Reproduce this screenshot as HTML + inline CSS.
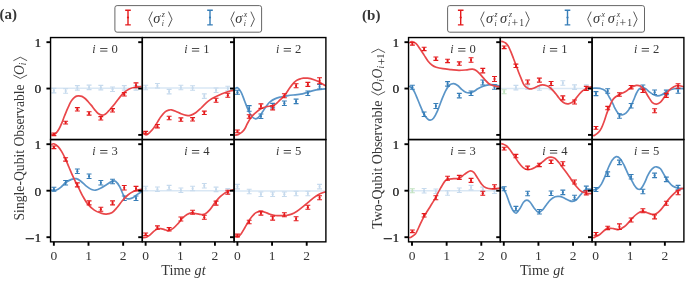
<!DOCTYPE html>
<html><head><meta charset="utf-8"><style>
html,body{margin:0;padding:0;background:#fff;}
svg{display:block;will-change:transform;}
</style></head><body>
<svg width="685" height="283" viewBox="0 0 685 283" xmlns="http://www.w3.org/2000/svg">
<rect width="685" height="283" fill="#fff"/>
<clipPath id="clip_a0"><rect x="50.55" y="37.55" width="91.78" height="102.00"/></clipPath>
<path clip-path="url(#clip_a0)" d="M50.60,88.20L141.50,88.20" fill="none" stroke="#d9e7f4" stroke-width="1.5" stroke-linejoin="round"/>
<ellipse cx="53.90" cy="90.60" rx="1.0" ry="1.3" fill="#c6daed"/>
<ellipse cx="65.63" cy="91.00" rx="1.0" ry="1.3" fill="#c6daed"/>
<ellipse cx="77.36" cy="87.90" rx="1.0" ry="1.3" fill="#c6daed"/>
<ellipse cx="89.09" cy="87.40" rx="1.0" ry="1.3" fill="#c6daed"/>
<ellipse cx="100.82" cy="87.60" rx="1.0" ry="1.3" fill="#c6daed"/>
<ellipse cx="112.55" cy="89.20" rx="1.0" ry="1.3" fill="#c6daed"/>
<ellipse cx="124.28" cy="87.90" rx="1.0" ry="1.3" fill="#c6daed"/>
<ellipse cx="136.01" cy="87.90" rx="1.0" ry="1.3" fill="#c6daed"/>
<path d="M53.90,88.36V92.84M65.63,88.76V93.24M77.36,85.66V90.14M89.09,85.16V89.64M100.82,85.36V89.84M112.55,86.96V91.44M124.28,85.66V90.14M136.01,85.66V90.14" stroke="#c6daed" stroke-width="1.3" fill="none"/>
<path d="M51.45,88.36H56.35M51.45,92.84H56.35M63.18,88.76H68.08M63.18,93.24H68.08M74.91,85.66H79.81M74.91,90.14H79.81M86.64,85.16H91.54M86.64,89.64H91.54M98.37,85.36H103.27M98.37,89.84H103.27M110.10,86.96H115.00M110.10,91.44H115.00M121.83,85.66H126.73M121.83,90.14H126.73M133.56,85.66H138.46M133.56,90.14H138.46" stroke="#c6daed" stroke-width="1.1" fill="none"/>
<path clip-path="url(#clip_a0)" d="M51.20,134.30C51.60,134.37 52.80,134.88 53.60,134.70C54.40,134.52 55.10,134.15 56.00,133.20C56.90,132.25 57.98,130.82 59.00,129.00C60.02,127.18 61.22,124.38 62.10,122.30C62.98,120.22 63.62,118.25 64.30,116.50C64.98,114.75 65.57,113.30 66.20,111.80C66.83,110.30 67.43,108.98 68.10,107.50C68.77,106.02 69.48,104.22 70.20,102.90C70.92,101.58 71.68,100.52 72.40,99.60C73.12,98.68 73.80,97.98 74.50,97.40C75.20,96.82 75.90,96.37 76.60,96.10C77.30,95.83 77.82,95.75 78.70,95.80C79.58,95.85 80.83,95.95 81.90,96.40C82.97,96.85 84.05,97.62 85.10,98.50C86.15,99.38 87.15,100.55 88.20,101.70C89.25,102.85 90.33,104.08 91.40,105.40C92.47,106.72 93.53,108.30 94.60,109.60C95.67,110.90 96.57,112.27 97.80,113.20C99.03,114.13 100.77,115.03 102.00,115.20C103.23,115.37 104.13,114.87 105.20,114.20C106.27,113.53 107.33,112.32 108.40,111.20C109.47,110.08 110.67,108.57 111.60,107.50C112.53,106.43 112.87,106.22 114.00,104.80C115.13,103.38 116.77,101.02 118.40,99.00C120.03,96.98 122.00,94.38 123.80,92.70C125.60,91.02 127.17,89.85 129.20,88.90C131.23,87.95 133.95,87.38 136.00,87.00C138.05,86.62 140.58,86.67 141.50,86.60" fill="none" stroke="#e9474a" stroke-width="1.7" stroke-linejoin="round"/>
<ellipse cx="53.90" cy="134.30" rx="1.0" ry="1.3" fill="#e41a1c"/>
<ellipse cx="65.63" cy="122.60" rx="1.0" ry="1.3" fill="#e41a1c"/>
<ellipse cx="77.36" cy="109.30" rx="1.0" ry="1.3" fill="#e41a1c"/>
<ellipse cx="89.09" cy="113.40" rx="1.0" ry="1.3" fill="#e41a1c"/>
<ellipse cx="100.82" cy="118.30" rx="1.0" ry="1.3" fill="#e41a1c"/>
<ellipse cx="112.55" cy="110.30" rx="1.0" ry="1.3" fill="#e41a1c"/>
<ellipse cx="124.28" cy="94.30" rx="1.0" ry="1.3" fill="#e41a1c"/>
<ellipse cx="136.01" cy="85.30" rx="1.0" ry="1.3" fill="#e41a1c"/>
<path d="M53.90,132.96V135.64M65.63,121.26V123.94M77.36,107.62V110.98M89.09,111.72V115.08M100.82,116.62V119.98M112.55,108.62V111.98M124.28,92.62V95.98M136.01,82.84V87.76" stroke="#e41a1c" stroke-width="1.3" fill="none"/>
<path d="M51.45,132.96H56.35M51.45,135.64H56.35M63.18,121.26H68.08M63.18,123.94H68.08M74.91,107.62H79.81M74.91,110.98H79.81M86.64,111.72H91.54M86.64,115.08H91.54M98.37,116.62H103.27M98.37,119.98H103.27M110.10,108.62H115.00M110.10,111.98H115.00M121.83,92.62H126.73M121.83,95.98H126.73M133.56,82.84H138.46M133.56,87.76H138.46" stroke="#e41a1c" stroke-width="1.1" fill="none"/>
<clipPath id="clip_a1"><rect x="142.33" y="37.55" width="91.78" height="102.00"/></clipPath>
<path clip-path="url(#clip_a1)" d="M142.60,88.10L233.50,88.10" fill="none" stroke="#d9e7f4" stroke-width="1.5" stroke-linejoin="round"/>
<ellipse cx="145.68" cy="87.50" rx="1.0" ry="1.3" fill="#c6daed"/>
<ellipse cx="157.41" cy="85.80" rx="1.0" ry="1.3" fill="#c6daed"/>
<ellipse cx="169.14" cy="91.60" rx="1.0" ry="1.3" fill="#c6daed"/>
<ellipse cx="180.87" cy="87.50" rx="1.0" ry="1.3" fill="#c6daed"/>
<ellipse cx="192.60" cy="88.00" rx="1.0" ry="1.3" fill="#c6daed"/>
<ellipse cx="204.33" cy="96.10" rx="1.0" ry="1.3" fill="#c6daed"/>
<ellipse cx="216.06" cy="90.20" rx="1.0" ry="1.3" fill="#c6daed"/>
<ellipse cx="227.79" cy="88.50" rx="1.0" ry="1.3" fill="#c6daed"/>
<path d="M145.68,85.26V89.74M157.41,83.56V88.04M169.14,89.36V93.84M180.87,85.26V89.74M192.60,85.76V90.24M204.33,93.86V98.34M216.06,87.96V92.44M227.79,86.26V90.74" stroke="#c6daed" stroke-width="1.3" fill="none"/>
<path d="M143.23,85.26H148.13M143.23,89.74H148.13M154.96,83.56H159.86M154.96,88.04H159.86M166.69,89.36H171.59M166.69,93.84H171.59M178.42,85.26H183.32M178.42,89.74H183.32M190.15,85.76H195.05M190.15,90.24H195.05M201.88,93.86H206.78M201.88,98.34H206.78M213.61,87.96H218.51M213.61,92.44H218.51M225.34,86.26H230.24M225.34,90.74H230.24" stroke="#c6daed" stroke-width="1.1" fill="none"/>
<path clip-path="url(#clip_a1)" d="M143.00,132.40C143.50,132.82 144.83,134.93 146.00,134.90C147.17,134.87 148.72,133.35 150.00,132.20C151.28,131.05 152.80,129.12 153.70,128.00C154.60,126.88 154.68,126.63 155.40,125.50C156.12,124.37 157.10,122.65 158.00,121.20C158.90,119.75 159.67,118.32 160.80,116.80C161.93,115.28 163.45,113.22 164.80,112.10C166.15,110.98 167.78,110.48 168.90,110.10C170.02,109.72 170.38,109.62 171.50,109.80C172.62,109.98 174.02,110.55 175.60,111.20C177.18,111.85 179.22,113.02 181.00,113.70C182.78,114.38 184.75,115.02 186.30,115.30C187.85,115.58 188.73,115.83 190.30,115.40C191.87,114.97 193.90,113.93 195.70,112.70C197.50,111.47 199.30,109.67 201.10,108.00C202.90,106.33 205.02,104.05 206.50,102.70C207.98,101.35 208.75,100.75 210.00,99.90C211.25,99.05 212.43,98.42 214.00,97.60C215.57,96.78 217.60,95.80 219.40,95.00C221.20,94.20 223.00,93.47 224.80,92.80C226.60,92.13 228.67,91.43 230.20,91.00C231.73,90.57 233.37,90.33 234.00,90.20" fill="none" stroke="#e9474a" stroke-width="1.7" stroke-linejoin="round"/>
<ellipse cx="145.68" cy="132.70" rx="1.0" ry="1.3" fill="#e41a1c"/>
<ellipse cx="157.41" cy="126.20" rx="1.0" ry="1.3" fill="#e41a1c"/>
<ellipse cx="169.14" cy="118.00" rx="1.0" ry="1.3" fill="#e41a1c"/>
<ellipse cx="180.87" cy="119.60" rx="1.0" ry="1.3" fill="#e41a1c"/>
<ellipse cx="192.60" cy="119.30" rx="1.0" ry="1.3" fill="#e41a1c"/>
<ellipse cx="204.33" cy="112.80" rx="1.0" ry="1.3" fill="#e41a1c"/>
<ellipse cx="216.06" cy="100.30" rx="1.0" ry="1.3" fill="#e41a1c"/>
<ellipse cx="227.79" cy="95.30" rx="1.0" ry="1.3" fill="#e41a1c"/>
<path d="M145.68,131.36V134.04M157.41,124.52V127.88M169.14,116.32V119.68M180.87,117.92V121.28M192.60,117.62V120.98M204.33,111.12V114.48M216.06,98.28V102.32M227.79,93.28V97.32" stroke="#e41a1c" stroke-width="1.3" fill="none"/>
<path d="M143.23,131.36H148.13M143.23,134.04H148.13M154.96,124.52H159.86M154.96,127.88H159.86M166.69,116.32H171.59M166.69,119.68H171.59M178.42,117.92H183.32M178.42,121.28H183.32M190.15,117.62H195.05M190.15,120.98H195.05M201.88,111.12H206.78M201.88,114.48H206.78M213.61,98.28H218.51M213.61,102.32H218.51M225.34,93.28H230.24M225.34,97.32H230.24" stroke="#e41a1c" stroke-width="1.1" fill="none"/>
<clipPath id="clip_a2"><rect x="234.11" y="37.55" width="91.78" height="102.00"/></clipPath>
<path clip-path="url(#clip_a2)" d="M234.60,89.00C235.10,88.80 236.50,87.25 237.60,87.80C238.70,88.35 240.00,90.02 241.20,92.30C242.40,94.58 243.60,98.47 244.80,101.50C246.00,104.53 247.20,107.95 248.40,110.50C249.60,113.05 250.80,115.42 252.00,116.80C253.20,118.18 254.52,118.70 255.60,118.80C256.68,118.90 257.30,118.62 258.50,117.40C259.70,116.18 261.48,113.40 262.80,111.50C264.12,109.60 265.20,107.62 266.40,106.00C267.60,104.38 268.50,103.03 270.00,101.80C271.50,100.57 273.60,99.40 275.40,98.60C277.20,97.80 278.70,97.50 280.80,97.00C282.90,96.50 285.60,95.97 288.00,95.60C290.40,95.23 293.10,95.03 295.20,94.80C297.30,94.57 298.80,94.53 300.60,94.20C302.40,93.87 303.90,93.40 306.00,92.80C308.10,92.20 310.80,91.17 313.20,90.60C315.60,90.03 318.27,89.68 320.40,89.40C322.53,89.12 325.07,88.98 326.00,88.90" fill="none" stroke="#5a95c8" stroke-width="1.7" stroke-linejoin="round"/>
<ellipse cx="237.46" cy="92.30" rx="1.0" ry="1.3" fill="#377eb8"/>
<ellipse cx="249.19" cy="108.40" rx="1.0" ry="1.3" fill="#377eb8"/>
<ellipse cx="260.92" cy="116.20" rx="1.0" ry="1.3" fill="#377eb8"/>
<ellipse cx="272.65" cy="105.60" rx="1.0" ry="1.3" fill="#377eb8"/>
<ellipse cx="284.38" cy="103.20" rx="1.0" ry="1.3" fill="#377eb8"/>
<ellipse cx="296.11" cy="101.40" rx="1.0" ry="1.3" fill="#377eb8"/>
<ellipse cx="307.84" cy="93.30" rx="1.0" ry="1.3" fill="#377eb8"/>
<ellipse cx="319.57" cy="86.70" rx="1.0" ry="1.3" fill="#377eb8"/>
<path d="M237.46,90.28V94.32M249.19,105.60V111.20M260.92,113.96V118.44M272.65,103.36V107.84M284.38,100.96V105.44M296.11,99.16V103.64M307.84,91.06V95.54M319.57,84.46V88.94" stroke="#377eb8" stroke-width="1.3" fill="none"/>
<path d="M235.01,90.28H239.91M235.01,94.32H239.91M246.74,105.60H251.64M246.74,111.20H251.64M258.47,113.96H263.37M258.47,118.44H263.37M270.20,103.36H275.10M270.20,107.84H275.10M281.93,100.96H286.83M281.93,105.44H286.83M293.66,99.16H298.56M293.66,103.64H298.56M305.39,91.06H310.29M305.39,95.54H310.29M317.12,84.46H322.02M317.12,88.94H322.02" stroke="#377eb8" stroke-width="1.1" fill="none"/>
<path clip-path="url(#clip_a2)" d="M235.00,135.20C235.50,135.10 236.83,135.10 238.00,134.60C239.17,134.10 240.83,133.22 242.00,132.20C243.17,131.18 244.10,129.95 245.00,128.50C245.90,127.05 246.32,125.45 247.40,123.50C248.48,121.55 250.15,118.58 251.50,116.80C252.85,115.02 253.93,114.15 255.50,112.80C257.07,111.45 259.12,109.72 260.90,108.70C262.68,107.68 264.42,107.17 266.20,106.70C267.98,106.23 270.13,106.25 271.60,105.90C273.07,105.55 273.93,105.25 275.00,104.60C276.07,103.95 276.97,102.97 278.00,102.00C279.03,101.03 280.05,99.95 281.20,98.80C282.35,97.65 283.67,96.63 284.90,95.10C286.13,93.57 287.38,91.35 288.60,89.60C289.82,87.85 290.98,86.05 292.20,84.60C293.42,83.15 294.67,81.82 295.90,80.90C297.13,79.98 298.37,79.55 299.60,79.10C300.83,78.65 302.08,78.37 303.30,78.20C304.52,78.03 305.68,78.03 306.90,78.10C308.12,78.17 308.87,78.10 310.60,78.60C312.33,79.10 315.30,80.18 317.30,81.10C319.30,82.02 321.15,83.27 322.60,84.10C324.05,84.93 325.43,85.77 326.00,86.10" fill="none" stroke="#e9474a" stroke-width="1.7" stroke-linejoin="round"/>
<ellipse cx="237.46" cy="131.40" rx="1.0" ry="1.3" fill="#e41a1c"/>
<ellipse cx="249.19" cy="116.50" rx="1.0" ry="1.3" fill="#e41a1c"/>
<ellipse cx="260.92" cy="106.10" rx="1.0" ry="1.3" fill="#e41a1c"/>
<ellipse cx="272.65" cy="107.90" rx="1.0" ry="1.3" fill="#e41a1c"/>
<ellipse cx="284.38" cy="95.80" rx="1.0" ry="1.3" fill="#e41a1c"/>
<ellipse cx="296.11" cy="85.80" rx="1.0" ry="1.3" fill="#e41a1c"/>
<ellipse cx="307.84" cy="84.40" rx="1.0" ry="1.3" fill="#e41a1c"/>
<ellipse cx="319.57" cy="80.80" rx="1.0" ry="1.3" fill="#e41a1c"/>
<path d="M237.46,130.06V132.74M249.19,114.82V118.18M260.92,103.86V108.34M272.65,105.88V109.92M284.38,93.78V97.82M296.11,83.78V87.82M307.84,82.38V86.42M319.57,77.78V83.82" stroke="#e41a1c" stroke-width="1.3" fill="none"/>
<path d="M235.01,130.06H239.91M235.01,132.74H239.91M246.74,114.82H251.64M246.74,118.18H251.64M258.47,103.86H263.37M258.47,108.34H263.37M270.20,105.88H275.10M270.20,109.92H275.10M281.93,93.78H286.83M281.93,97.82H286.83M293.66,83.78H298.56M293.66,87.82H298.56M305.39,82.38H310.29M305.39,86.42H310.29M317.12,77.78H322.02M317.12,83.82H322.02" stroke="#e41a1c" stroke-width="1.1" fill="none"/>
<clipPath id="clip_a3"><rect x="50.55" y="139.55" width="91.78" height="102.30"/></clipPath>
<path clip-path="url(#clip_a3)" d="M50.60,190.00C51.10,190.08 52.62,190.50 53.60,190.50C54.58,190.50 55.32,190.53 56.50,190.00C57.68,189.47 59.10,188.58 60.70,187.30C62.30,186.02 64.30,183.62 66.10,182.30C67.90,180.98 69.82,180.00 71.50,179.40C73.18,178.80 74.63,178.38 76.20,178.70C77.77,179.02 79.22,180.07 80.90,181.30C82.58,182.53 84.52,184.73 86.30,186.10C88.08,187.47 90.03,188.82 91.60,189.50C93.17,190.18 94.13,190.43 95.70,190.20C97.27,189.97 99.22,189.00 101.00,188.10C102.78,187.20 104.60,185.92 106.40,184.80C108.20,183.68 110.28,181.98 111.80,181.40C113.32,180.82 114.17,180.40 115.50,181.30C116.83,182.20 118.52,184.57 119.80,186.80C121.08,189.03 122.18,192.82 123.20,194.70C124.22,196.58 124.90,197.42 125.90,198.10C126.90,198.78 127.97,198.90 129.20,198.80C130.43,198.70 131.95,198.23 133.30,197.50C134.65,196.77 135.85,195.40 137.30,194.40C138.75,193.40 141.22,191.98 142.00,191.50" fill="none" stroke="#5a95c8" stroke-width="1.7" stroke-linejoin="round"/>
<ellipse cx="53.90" cy="189.20" rx="1.0" ry="1.3" fill="#377eb8"/>
<ellipse cx="65.63" cy="182.80" rx="1.0" ry="1.3" fill="#377eb8"/>
<ellipse cx="77.36" cy="171.20" rx="1.0" ry="1.3" fill="#377eb8"/>
<ellipse cx="89.09" cy="176.20" rx="1.0" ry="1.3" fill="#377eb8"/>
<ellipse cx="100.82" cy="182.70" rx="1.0" ry="1.3" fill="#377eb8"/>
<ellipse cx="112.55" cy="181.50" rx="1.0" ry="1.3" fill="#377eb8"/>
<ellipse cx="124.28" cy="198.20" rx="1.0" ry="1.3" fill="#377eb8"/>
<ellipse cx="136.01" cy="198.20" rx="1.0" ry="1.3" fill="#377eb8"/>
<path d="M53.90,187.18V191.22M65.63,180.56V185.04M77.36,168.96V173.44M89.09,173.96V178.44M100.82,180.46V184.94M112.55,179.26V183.74M124.28,195.96V200.44M136.01,195.96V200.44" stroke="#377eb8" stroke-width="1.3" fill="none"/>
<path d="M51.45,187.18H56.35M51.45,191.22H56.35M63.18,180.56H68.08M63.18,185.04H68.08M74.91,168.96H79.81M74.91,173.44H79.81M86.64,173.96H91.54M86.64,178.44H91.54M98.37,180.46H103.27M98.37,184.94H103.27M110.10,179.26H115.00M110.10,183.74H115.00M121.83,195.96H126.73M121.83,200.44H126.73M133.56,195.96H138.46M133.56,200.44H138.46" stroke="#377eb8" stroke-width="1.1" fill="none"/>
<path clip-path="url(#clip_a3)" d="M51.20,144.60C51.63,144.47 52.65,143.47 53.80,143.80C54.95,144.13 56.78,145.30 58.10,146.60C59.42,147.90 60.50,149.60 61.70,151.60C62.90,153.60 64.10,156.03 65.30,158.60C66.50,161.17 67.70,164.20 68.90,167.00C70.10,169.80 71.30,172.73 72.50,175.40C73.70,178.07 74.93,180.63 76.10,183.00C77.27,185.37 78.42,187.47 79.50,189.60C80.58,191.73 81.25,193.42 82.60,195.80C83.95,198.18 85.65,201.52 87.60,203.90C89.55,206.28 92.07,208.57 94.30,210.10C96.53,211.63 99.02,212.43 101.00,213.10C102.98,213.77 104.40,214.15 106.20,214.10C108.00,214.05 109.98,213.90 111.80,212.80C113.62,211.70 115.32,209.55 117.10,207.50C118.88,205.45 120.70,202.58 122.50,200.50C124.30,198.42 126.10,196.48 127.90,195.00C129.70,193.52 131.52,192.47 133.30,191.60C135.08,190.73 137.15,190.20 138.60,189.80C140.05,189.40 141.43,189.30 142.00,189.20" fill="none" stroke="#e9474a" stroke-width="1.7" stroke-linejoin="round"/>
<ellipse cx="53.90" cy="147.30" rx="1.0" ry="1.3" fill="#e41a1c"/>
<ellipse cx="65.63" cy="159.40" rx="1.0" ry="1.3" fill="#e41a1c"/>
<ellipse cx="77.36" cy="184.90" rx="1.0" ry="1.3" fill="#e41a1c"/>
<ellipse cx="89.09" cy="202.90" rx="1.0" ry="1.3" fill="#e41a1c"/>
<ellipse cx="100.82" cy="209.20" rx="1.0" ry="1.3" fill="#e41a1c"/>
<ellipse cx="112.55" cy="202.90" rx="1.0" ry="1.3" fill="#e41a1c"/>
<ellipse cx="124.28" cy="187.80" rx="1.0" ry="1.3" fill="#e41a1c"/>
<ellipse cx="136.01" cy="188.60" rx="1.0" ry="1.3" fill="#e41a1c"/>
<path d="M53.90,145.96V148.64M65.63,157.72V161.08M77.36,182.88V186.92M89.09,200.88V204.92M100.82,207.18V211.22M112.55,200.88V204.92M124.28,185.56V190.04M136.01,186.36V190.84" stroke="#e41a1c" stroke-width="1.3" fill="none"/>
<path d="M51.45,145.96H56.35M51.45,148.64H56.35M63.18,157.72H68.08M63.18,161.08H68.08M74.91,182.88H79.81M74.91,186.92H79.81M86.64,200.88H91.54M86.64,204.92H91.54M98.37,207.18H103.27M98.37,211.22H103.27M110.10,200.88H115.00M110.10,204.92H115.00M121.83,185.56H126.73M121.83,190.04H126.73M133.56,186.36H138.46M133.56,190.84H138.46" stroke="#e41a1c" stroke-width="1.1" fill="none"/>
<clipPath id="clip_a4"><rect x="142.33" y="139.55" width="91.78" height="102.30"/></clipPath>
<path clip-path="url(#clip_a4)" d="M142.60,190.80L233.50,190.80" fill="none" stroke="#d9e7f4" stroke-width="1.5" stroke-linejoin="round"/>
<ellipse cx="145.68" cy="188.50" rx="1.0" ry="1.3" fill="#c6daed"/>
<ellipse cx="157.41" cy="189.30" rx="1.0" ry="1.3" fill="#c6daed"/>
<ellipse cx="169.14" cy="187.60" rx="1.0" ry="1.3" fill="#c6daed"/>
<ellipse cx="180.87" cy="190.30" rx="1.0" ry="1.3" fill="#c6daed"/>
<ellipse cx="192.60" cy="188.50" rx="1.0" ry="1.3" fill="#c6daed"/>
<ellipse cx="204.33" cy="185.80" rx="1.0" ry="1.3" fill="#c6daed"/>
<ellipse cx="216.06" cy="189.40" rx="1.0" ry="1.3" fill="#c6daed"/>
<ellipse cx="227.79" cy="190.90" rx="1.0" ry="1.3" fill="#c6daed"/>
<path d="M145.68,186.26V190.74M157.41,187.06V191.54M169.14,185.36V189.84M180.87,188.06V192.54M192.60,186.26V190.74M204.33,183.56V188.04M216.06,187.16V191.64M227.79,188.66V193.14" stroke="#c6daed" stroke-width="1.3" fill="none"/>
<path d="M143.23,186.26H148.13M143.23,190.74H148.13M154.96,187.06H159.86M154.96,191.54H159.86M166.69,185.36H171.59M166.69,189.84H171.59M178.42,188.06H183.32M178.42,192.54H183.32M190.15,186.26H195.05M190.15,190.74H195.05M201.88,183.56H206.78M201.88,188.04H206.78M213.61,187.16H218.51M213.61,191.64H218.51M225.34,188.66H230.24M225.34,193.14H230.24" stroke="#c6daed" stroke-width="1.1" fill="none"/>
<path clip-path="url(#clip_a4)" d="M143.00,237.70C143.58,237.62 145.32,237.68 146.50,237.20C147.68,236.72 148.90,235.77 150.10,234.80C151.30,233.83 152.50,232.37 153.70,231.40C154.90,230.43 156.10,229.47 157.30,229.00C158.50,228.53 159.70,228.50 160.90,228.60C162.10,228.70 163.15,229.28 164.50,229.60C165.85,229.92 167.50,230.75 169.00,230.50C170.50,230.25 172.00,229.25 173.50,228.10C175.00,226.95 176.50,225.25 178.00,223.60C179.50,221.95 181.00,219.70 182.50,218.20C184.00,216.70 185.50,215.50 187.00,214.60C188.50,213.70 190.00,212.97 191.50,212.80C193.00,212.63 194.35,213.32 196.00,213.60C197.65,213.88 199.90,214.43 201.40,214.50C202.90,214.57 203.65,214.73 205.00,214.00C206.35,213.27 208.00,211.77 209.50,210.10C211.00,208.43 212.50,205.97 214.00,204.00C215.50,202.03 217.00,199.90 218.50,198.30C220.00,196.70 221.42,195.57 223.00,194.40C224.58,193.23 226.17,192.13 228.00,191.30C229.83,190.47 233.00,189.72 234.00,189.40" fill="none" stroke="#e9474a" stroke-width="1.7" stroke-linejoin="round"/>
<ellipse cx="145.68" cy="234.30" rx="1.0" ry="1.3" fill="#e41a1c"/>
<ellipse cx="157.41" cy="227.60" rx="1.0" ry="1.3" fill="#e41a1c"/>
<ellipse cx="169.14" cy="229.30" rx="1.0" ry="1.3" fill="#e41a1c"/>
<ellipse cx="180.87" cy="219.00" rx="1.0" ry="1.3" fill="#e41a1c"/>
<ellipse cx="192.60" cy="212.20" rx="1.0" ry="1.3" fill="#e41a1c"/>
<ellipse cx="204.33" cy="217.20" rx="1.0" ry="1.3" fill="#e41a1c"/>
<ellipse cx="216.06" cy="203.10" rx="1.0" ry="1.3" fill="#e41a1c"/>
<ellipse cx="227.79" cy="192.20" rx="1.0" ry="1.3" fill="#e41a1c"/>
<path d="M145.68,232.96V235.64M157.41,225.92V229.28M169.14,227.62V230.98M180.87,216.98V221.02M192.60,210.18V214.22M204.33,215.18V219.22M216.06,201.08V205.12M227.79,190.18V194.22" stroke="#e41a1c" stroke-width="1.3" fill="none"/>
<path d="M143.23,232.96H148.13M143.23,235.64H148.13M154.96,225.92H159.86M154.96,229.28H159.86M166.69,227.62H171.59M166.69,230.98H171.59M178.42,216.98H183.32M178.42,221.02H183.32M190.15,210.18H195.05M190.15,214.22H195.05M201.88,215.18H206.78M201.88,219.22H206.78M213.61,201.08H218.51M213.61,205.12H218.51M225.34,190.18H230.24M225.34,194.22H230.24" stroke="#e41a1c" stroke-width="1.1" fill="none"/>
<clipPath id="clip_a5"><rect x="234.11" y="139.55" width="91.78" height="102.30"/></clipPath>
<path clip-path="url(#clip_a5)" d="M234.60,191.10L325.50,191.10" fill="none" stroke="#d9e7f4" stroke-width="1.5" stroke-linejoin="round"/>
<ellipse cx="237.46" cy="186.60" rx="1.0" ry="1.3" fill="#c6daed"/>
<ellipse cx="249.19" cy="191.50" rx="1.0" ry="1.3" fill="#c6daed"/>
<ellipse cx="260.92" cy="194.30" rx="1.0" ry="1.3" fill="#c6daed"/>
<ellipse cx="272.65" cy="194.30" rx="1.0" ry="1.3" fill="#c6daed"/>
<ellipse cx="284.38" cy="194.30" rx="1.0" ry="1.3" fill="#c6daed"/>
<ellipse cx="296.11" cy="193.50" rx="1.0" ry="1.3" fill="#c6daed"/>
<ellipse cx="307.84" cy="193.50" rx="1.0" ry="1.3" fill="#c6daed"/>
<ellipse cx="319.57" cy="186.60" rx="1.0" ry="1.3" fill="#c6daed"/>
<path d="M237.46,184.36V188.84M249.19,189.26V193.74M260.92,192.06V196.54M272.65,192.06V196.54M284.38,192.06V196.54M296.11,191.26V195.74M307.84,191.26V195.74M319.57,184.36V188.84" stroke="#c6daed" stroke-width="1.3" fill="none"/>
<path d="M235.01,184.36H239.91M235.01,188.84H239.91M246.74,189.26H251.64M246.74,193.74H251.64M258.47,192.06H263.37M258.47,196.54H263.37M270.20,192.06H275.10M270.20,196.54H275.10M281.93,192.06H286.83M281.93,196.54H286.83M293.66,191.26H298.56M293.66,195.74H298.56M305.39,191.26H310.29M305.39,195.74H310.29M317.12,184.36H322.02M317.12,188.84H322.02" stroke="#c6daed" stroke-width="1.1" fill="none"/>
<path clip-path="url(#clip_a5)" d="M235.00,235.70C235.50,235.88 236.97,237.13 238.00,236.80C239.03,236.47 240.07,235.20 241.20,233.70C242.33,232.20 243.60,229.83 244.80,227.80C246.00,225.77 247.20,223.38 248.40,221.50C249.60,219.62 250.80,217.93 252.00,216.50C253.20,215.07 254.25,213.77 255.60,212.90C256.95,212.03 258.60,211.43 260.10,211.30C261.60,211.17 262.95,211.62 264.60,212.10C266.25,212.58 268.20,213.63 270.00,214.20C271.80,214.77 273.60,215.25 275.40,215.50C277.20,215.75 279.00,215.70 280.80,215.70C282.60,215.70 284.40,215.77 286.20,215.50C288.00,215.23 289.80,214.82 291.60,214.10C293.40,213.38 295.20,212.37 297.00,211.20C298.80,210.03 300.60,208.53 302.40,207.10C304.20,205.67 306.00,204.10 307.80,202.60C309.60,201.10 311.40,199.45 313.20,198.10C315.00,196.75 316.80,195.47 318.60,194.50C320.40,193.53 322.77,192.75 324.00,192.30C325.23,191.85 325.67,191.88 326.00,191.80" fill="none" stroke="#e9474a" stroke-width="1.7" stroke-linejoin="round"/>
<ellipse cx="237.46" cy="235.50" rx="1.0" ry="1.3" fill="#e41a1c"/>
<ellipse cx="249.19" cy="222.00" rx="1.0" ry="1.3" fill="#e41a1c"/>
<ellipse cx="260.92" cy="213.10" rx="1.0" ry="1.3" fill="#e41a1c"/>
<ellipse cx="272.65" cy="218.10" rx="1.0" ry="1.3" fill="#e41a1c"/>
<ellipse cx="284.38" cy="214.80" rx="1.0" ry="1.3" fill="#e41a1c"/>
<ellipse cx="296.11" cy="218.80" rx="1.0" ry="1.3" fill="#e41a1c"/>
<ellipse cx="307.84" cy="207.20" rx="1.0" ry="1.3" fill="#e41a1c"/>
<ellipse cx="319.57" cy="197.80" rx="1.0" ry="1.3" fill="#e41a1c"/>
<path d="M237.46,234.16V236.84M249.19,220.32V223.68M260.92,211.08V215.12M272.65,216.08V220.12M284.38,212.78V216.82M296.11,216.78V220.82M307.84,205.18V209.22M319.57,195.78V199.82" stroke="#e41a1c" stroke-width="1.3" fill="none"/>
<path d="M235.01,234.16H239.91M235.01,236.84H239.91M246.74,220.32H251.64M246.74,223.68H251.64M258.47,211.08H263.37M258.47,215.12H263.37M270.20,216.08H275.10M270.20,220.12H275.10M281.93,212.78H286.83M281.93,216.82H286.83M293.66,216.78H298.56M293.66,220.82H298.56M305.39,205.18H310.29M305.39,209.22H310.29M317.12,195.78H322.02M317.12,199.82H322.02" stroke="#e41a1c" stroke-width="1.1" fill="none"/>
<clipPath id="clip_b0"><rect x="408.55" y="37.55" width="91.78" height="102.00"/></clipPath>
<path clip-path="url(#clip_b0)" d="M409.20,86.00C409.67,86.40 411.20,87.57 412.00,88.40C412.80,89.23 413.32,89.80 414.00,91.00C414.68,92.20 415.08,93.22 416.10,95.60C417.12,97.98 418.77,102.15 420.10,105.30C421.43,108.45 422.87,112.23 424.10,114.50C425.33,116.77 426.48,117.95 427.50,118.90C428.52,119.85 429.20,120.32 430.20,120.20C431.20,120.08 432.28,119.77 433.50,118.20C434.72,116.63 436.15,113.82 437.50,110.80C438.85,107.78 440.25,103.43 441.60,100.10C442.95,96.77 444.27,93.32 445.60,90.80C446.93,88.28 448.25,86.20 449.60,85.00C450.95,83.80 452.35,83.52 453.70,83.60C455.05,83.68 456.37,84.53 457.70,85.50C459.03,86.47 460.37,88.28 461.70,89.40C463.03,90.52 464.35,91.62 465.70,92.20C467.05,92.78 468.45,93.02 469.80,92.90C471.15,92.78 472.47,92.18 473.80,91.50C475.13,90.82 476.23,89.68 477.80,88.80C479.37,87.92 481.40,86.87 483.20,86.20C485.00,85.53 486.80,85.03 488.60,84.80C490.40,84.57 492.10,84.57 494.00,84.80C495.90,85.03 499.00,85.97 500.00,86.20" fill="none" stroke="#5a95c8" stroke-width="1.7" stroke-linejoin="round"/>
<ellipse cx="412.40" cy="87.30" rx="1.0" ry="1.3" fill="#377eb8"/>
<ellipse cx="424.13" cy="114.20" rx="1.0" ry="1.3" fill="#377eb8"/>
<ellipse cx="435.86" cy="106.00" rx="1.0" ry="1.3" fill="#377eb8"/>
<ellipse cx="447.59" cy="83.90" rx="1.0" ry="1.3" fill="#377eb8"/>
<ellipse cx="459.32" cy="95.60" rx="1.0" ry="1.3" fill="#377eb8"/>
<ellipse cx="471.05" cy="93.20" rx="1.0" ry="1.3" fill="#377eb8"/>
<ellipse cx="482.78" cy="82.50" rx="1.0" ry="1.3" fill="#377eb8"/>
<ellipse cx="494.51" cy="87.00" rx="1.0" ry="1.3" fill="#377eb8"/>
<path d="M412.40,85.28V89.32M424.13,111.96V116.44M435.86,103.54V108.46M447.59,81.66V86.14M459.32,93.36V97.84M471.05,90.96V95.44M482.78,80.04V84.96M494.51,84.76V89.24" stroke="#377eb8" stroke-width="1.3" fill="none"/>
<path d="M409.95,85.28H414.85M409.95,89.32H414.85M421.68,111.96H426.58M421.68,116.44H426.58M433.41,103.54H438.31M433.41,108.46H438.31M445.14,81.66H450.04M445.14,86.14H450.04M456.87,93.36H461.77M456.87,97.84H461.77M468.60,90.96H473.50M468.60,95.44H473.50M480.33,80.04H485.23M480.33,84.96H485.23M492.06,84.76H496.96M492.06,89.24H496.96" stroke="#377eb8" stroke-width="1.1" fill="none"/>
<path clip-path="url(#clip_b0)" d="M409.20,43.00C409.67,42.78 410.85,41.58 412.00,41.70C413.15,41.82 414.75,42.47 416.10,43.70C417.45,44.93 418.77,47.20 420.10,49.10C421.43,51.00 422.77,53.08 424.10,55.10C425.43,57.12 426.75,59.52 428.10,61.20C429.45,62.88 430.85,64.20 432.20,65.20C433.55,66.20 434.42,66.62 436.20,67.20C437.98,67.78 440.43,68.30 442.90,68.70C445.37,69.10 448.32,69.32 451.00,69.60C453.68,69.88 456.32,70.37 459.00,70.40C461.68,70.43 464.85,70.00 467.10,69.80C469.35,69.60 470.93,69.05 472.50,69.20C474.07,69.35 475.17,69.78 476.50,70.70C477.83,71.62 479.15,73.25 480.50,74.70C481.85,76.15 483.25,77.93 484.60,79.40C485.95,80.87 487.27,82.48 488.60,83.50C489.93,84.52 491.27,85.03 492.60,85.50C493.93,85.97 495.37,86.08 496.60,86.30C497.83,86.52 499.43,86.72 500.00,86.80" fill="none" stroke="#e9474a" stroke-width="1.7" stroke-linejoin="round"/>
<ellipse cx="412.40" cy="43.80" rx="1.0" ry="1.3" fill="#e41a1c"/>
<ellipse cx="424.13" cy="48.90" rx="1.0" ry="1.3" fill="#e41a1c"/>
<ellipse cx="435.86" cy="58.70" rx="1.0" ry="1.3" fill="#e41a1c"/>
<ellipse cx="447.59" cy="60.90" rx="1.0" ry="1.3" fill="#e41a1c"/>
<ellipse cx="459.32" cy="63.60" rx="1.0" ry="1.3" fill="#e41a1c"/>
<ellipse cx="471.05" cy="60.00" rx="1.0" ry="1.3" fill="#e41a1c"/>
<ellipse cx="482.78" cy="70.60" rx="1.0" ry="1.3" fill="#e41a1c"/>
<ellipse cx="494.51" cy="79.00" rx="1.0" ry="1.3" fill="#e41a1c"/>
<path d="M412.40,42.46V45.14M424.13,47.22V50.58M435.86,57.02V60.38M447.59,59.22V62.58M459.32,61.92V65.28M471.05,57.76V62.24M482.78,68.36V72.84M494.51,76.54V81.46" stroke="#e41a1c" stroke-width="1.3" fill="none"/>
<path d="M409.95,42.46H414.85M409.95,45.14H414.85M421.68,47.22H426.58M421.68,50.58H426.58M433.41,57.02H438.31M433.41,60.38H438.31M445.14,59.22H450.04M445.14,62.58H450.04M456.87,61.92H461.77M456.87,65.28H461.77M468.60,57.76H473.50M468.60,62.24H473.50M480.33,68.36H485.23M480.33,72.84H485.23M492.06,76.54H496.96M492.06,81.46H496.96" stroke="#e41a1c" stroke-width="1.1" fill="none"/>
<clipPath id="clip_b1"><rect x="500.33" y="37.55" width="91.78" height="102.00"/></clipPath>
<path clip-path="url(#clip_b1)" d="M500.60,88.40L591.50,88.40" fill="none" stroke="#d9e7f4" stroke-width="1.5" stroke-linejoin="round"/>
<ellipse cx="515.91" cy="87.60" rx="1.0" ry="1.3" fill="#c6daed"/>
<ellipse cx="527.64" cy="87.10" rx="1.0" ry="1.3" fill="#c6daed"/>
<ellipse cx="539.37" cy="88.00" rx="1.0" ry="1.3" fill="#c6daed"/>
<ellipse cx="551.10" cy="87.50" rx="1.0" ry="1.3" fill="#c6daed"/>
<ellipse cx="562.83" cy="83.00" rx="1.0" ry="1.3" fill="#c6daed"/>
<ellipse cx="574.56" cy="87.10" rx="1.0" ry="1.3" fill="#c6daed"/>
<ellipse cx="586.29" cy="87.10" rx="1.0" ry="1.3" fill="#c6daed"/>
<path d="M515.91,85.36V89.84M527.64,84.86V89.34M539.37,85.76V90.24M551.10,85.26V89.74M562.83,80.76V85.24M574.56,84.86V89.34M586.29,84.86V89.34" stroke="#c6daed" stroke-width="1.3" fill="none"/>
<path d="M513.46,85.36H518.36M513.46,89.84H518.36M525.19,84.86H530.09M525.19,89.34H530.09M536.92,85.76H541.82M536.92,90.24H541.82M548.65,85.26H553.55M548.65,89.74H553.55M560.38,80.76H565.28M560.38,85.24H565.28M572.11,84.86H577.01M572.11,89.34H577.01M583.84,84.86H588.74M583.84,89.34H588.74" stroke="#c6daed" stroke-width="1.1" fill="none"/>
<ellipse cx="504.18" cy="91.70" rx="1.0" ry="1.3" fill="#c2e2c1"/>
<path d="M504.18,89.68V93.72" stroke="#c2e2c1" stroke-width="1.3" fill="none"/>
<path d="M501.73,89.68H506.63M501.73,93.72H506.63" stroke="#c2e2c1" stroke-width="1.1" fill="none"/>
<path clip-path="url(#clip_b1)" d="M501.20,41.30C501.45,41.35 501.97,41.32 502.70,41.60C503.43,41.88 504.68,42.27 505.60,43.00C506.52,43.73 507.37,44.63 508.20,46.00C509.03,47.37 509.75,49.20 510.60,51.20C511.45,53.20 512.40,55.67 513.30,58.00C514.20,60.33 515.12,62.83 516.00,65.20C516.88,67.57 517.73,69.97 518.60,72.20C519.47,74.43 520.40,76.67 521.20,78.60C522.00,80.53 522.58,82.37 523.40,83.80C524.22,85.23 525.18,86.37 526.10,87.20C527.02,88.03 528.00,88.53 528.90,88.80C529.80,89.07 530.62,88.93 531.50,88.80C532.38,88.67 533.15,88.43 534.20,88.00C535.25,87.57 536.45,86.72 537.80,86.20C539.15,85.68 540.80,84.97 542.30,84.90C543.80,84.83 545.45,85.28 546.80,85.80C548.15,86.32 549.20,87.03 550.40,88.00C551.60,88.97 552.80,90.25 554.00,91.60C555.20,92.95 556.40,94.60 557.60,96.10C558.80,97.60 560.00,99.40 561.20,100.60C562.40,101.80 563.60,102.77 564.80,103.30C566.00,103.83 567.20,103.95 568.40,103.80C569.60,103.65 570.80,103.23 572.00,102.40C573.20,101.57 574.40,100.15 575.60,98.80C576.80,97.45 578.00,95.65 579.20,94.30C580.40,92.95 581.60,91.68 582.80,90.70C584.00,89.72 585.20,89.00 586.40,88.40C587.60,87.80 589.07,87.37 590.00,87.10C590.93,86.83 591.67,86.85 592.00,86.80" fill="none" stroke="#e9474a" stroke-width="1.7" stroke-linejoin="round"/>
<ellipse cx="504.18" cy="47.30" rx="1.0" ry="1.3" fill="#e41a1c"/>
<ellipse cx="515.91" cy="65.80" rx="1.0" ry="1.3" fill="#e41a1c"/>
<ellipse cx="527.64" cy="82.00" rx="1.0" ry="1.3" fill="#e41a1c"/>
<ellipse cx="539.37" cy="80.10" rx="1.0" ry="1.3" fill="#e41a1c"/>
<ellipse cx="551.10" cy="83.50" rx="1.0" ry="1.3" fill="#e41a1c"/>
<ellipse cx="562.83" cy="97.90" rx="1.0" ry="1.3" fill="#e41a1c"/>
<ellipse cx="574.56" cy="102.00" rx="1.0" ry="1.3" fill="#e41a1c"/>
<ellipse cx="586.29" cy="88.40" rx="1.0" ry="1.3" fill="#e41a1c"/>
<path d="M504.18,45.96V48.64M515.91,64.12V67.48M527.64,79.98V84.02M539.37,78.08V82.12M551.10,81.48V85.52M562.83,95.88V99.92M574.56,99.98V104.02M586.29,86.38V90.42" stroke="#e41a1c" stroke-width="1.3" fill="none"/>
<path d="M501.73,45.96H506.63M501.73,48.64H506.63M513.46,64.12H518.36M513.46,67.48H518.36M525.19,79.98H530.09M525.19,84.02H530.09M536.92,78.08H541.82M536.92,82.12H541.82M548.65,81.48H553.55M548.65,85.52H553.55M560.38,95.88H565.28M560.38,99.92H565.28M572.11,99.98H577.01M572.11,104.02H577.01M583.84,86.38H588.74M583.84,90.42H588.74" stroke="#e41a1c" stroke-width="1.1" fill="none"/>
<clipPath id="clip_b2"><rect x="592.11" y="37.55" width="91.78" height="102.00"/></clipPath>
<path clip-path="url(#clip_b2)" d="M592.60,88.30C592.95,88.27 593.45,88.08 594.70,88.10C595.95,88.12 598.32,87.95 600.10,88.40C601.88,88.85 603.83,89.28 605.40,90.80C606.97,92.32 608.48,95.82 609.50,97.50C610.52,99.18 610.83,99.65 611.50,100.90C612.17,102.15 612.95,103.82 613.50,105.00C614.05,106.18 614.02,106.62 614.80,108.00C615.58,109.38 616.97,112.17 618.20,113.30C619.43,114.43 620.87,114.88 622.20,114.80C623.53,114.72 624.85,114.03 626.20,112.80C627.55,111.57 629.07,109.53 630.30,107.40C631.53,105.27 632.60,102.32 633.60,100.00C634.60,97.68 635.40,95.30 636.30,93.50C637.20,91.70 637.98,90.20 639.00,89.20C640.02,88.20 641.28,87.57 642.40,87.50C643.52,87.43 644.48,88.03 645.70,88.80C646.92,89.57 648.35,91.10 649.70,92.10C651.05,93.10 652.45,94.17 653.80,94.80C655.15,95.43 656.47,95.90 657.80,95.90C659.13,95.90 660.45,95.43 661.80,94.80C663.15,94.17 664.33,92.98 665.90,92.10C667.47,91.22 669.18,90.12 671.20,89.50C673.22,88.88 675.87,88.52 678.00,88.40C680.13,88.28 683.00,88.73 684.00,88.80" fill="none" stroke="#5a95c8" stroke-width="1.7" stroke-linejoin="round"/>
<ellipse cx="595.96" cy="93.60" rx="1.0" ry="1.3" fill="#377eb8"/>
<ellipse cx="607.69" cy="91.00" rx="1.0" ry="1.3" fill="#377eb8"/>
<ellipse cx="619.42" cy="116.00" rx="1.0" ry="1.3" fill="#377eb8"/>
<ellipse cx="631.15" cy="105.80" rx="1.0" ry="1.3" fill="#377eb8"/>
<ellipse cx="642.88" cy="87.20" rx="1.0" ry="1.3" fill="#377eb8"/>
<ellipse cx="654.61" cy="92.20" rx="1.0" ry="1.3" fill="#377eb8"/>
<ellipse cx="666.34" cy="92.40" rx="1.0" ry="1.3" fill="#377eb8"/>
<ellipse cx="678.07" cy="91.00" rx="1.0" ry="1.3" fill="#377eb8"/>
<path d="M595.96,91.58V95.62M607.69,88.76V93.24M619.42,113.76V118.24M631.15,103.56V108.04M642.88,84.96V89.44M654.61,89.96V94.44M666.34,90.16V94.64M678.07,88.76V93.24" stroke="#377eb8" stroke-width="1.3" fill="none"/>
<path d="M593.51,91.58H598.41M593.51,95.62H598.41M605.24,88.76H610.14M605.24,93.24H610.14M616.97,113.76H621.87M616.97,118.24H621.87M628.70,103.56H633.60M628.70,108.04H633.60M640.43,84.96H645.33M640.43,89.44H645.33M652.16,89.96H657.06M652.16,94.44H657.06M663.89,90.16H668.79M663.89,94.64H668.79M675.62,88.76H680.52M675.62,93.24H680.52" stroke="#377eb8" stroke-width="1.1" fill="none"/>
<path clip-path="url(#clip_b2)" d="M593.00,135.60C593.28,135.53 593.75,135.77 594.70,135.20C595.65,134.63 597.58,133.37 598.70,132.20C599.82,131.03 600.50,129.98 601.40,128.20C602.30,126.42 603.20,123.97 604.10,121.50C605.00,119.03 605.90,115.87 606.80,113.40C607.70,110.93 608.62,108.78 609.50,106.70C610.38,104.62 611.22,102.43 612.10,100.90C612.98,99.37 613.45,98.62 614.80,97.50C616.15,96.38 618.40,95.20 620.20,94.20C622.00,93.20 623.80,92.63 625.60,91.50C627.40,90.37 629.22,88.42 631.00,87.40C632.78,86.38 634.75,85.62 636.30,85.40C637.85,85.18 638.95,85.32 640.30,86.10C641.65,86.88 643.05,88.32 644.40,90.10C645.75,91.88 647.07,94.72 648.40,96.80C649.73,98.88 651.05,101.37 652.40,102.60C653.75,103.83 655.15,104.27 656.50,104.20C657.85,104.13 659.17,103.43 660.50,102.20C661.83,100.97 663.15,98.70 664.50,96.80C665.85,94.90 667.03,92.47 668.60,90.80C670.17,89.13 672.33,87.68 673.90,86.80C675.47,85.92 676.32,85.50 678.00,85.50C679.68,85.50 683.00,86.58 684.00,86.80" fill="none" stroke="#e9474a" stroke-width="1.7" stroke-linejoin="round"/>
<ellipse cx="595.96" cy="127.90" rx="1.0" ry="1.3" fill="#e41a1c"/>
<ellipse cx="607.69" cy="108.10" rx="1.0" ry="1.3" fill="#e41a1c"/>
<ellipse cx="619.42" cy="94.50" rx="1.0" ry="1.3" fill="#e41a1c"/>
<ellipse cx="631.15" cy="87.20" rx="1.0" ry="1.3" fill="#e41a1c"/>
<ellipse cx="642.88" cy="90.80" rx="1.0" ry="1.3" fill="#e41a1c"/>
<ellipse cx="654.61" cy="110.80" rx="1.0" ry="1.3" fill="#e41a1c"/>
<ellipse cx="666.34" cy="95.40" rx="1.0" ry="1.3" fill="#e41a1c"/>
<ellipse cx="678.07" cy="86.00" rx="1.0" ry="1.3" fill="#e41a1c"/>
<path d="M595.96,126.56V129.24M607.69,106.42V109.78M619.42,92.82V96.18M631.15,85.52V88.88M642.88,89.12V92.48M654.61,108.78V112.82M666.34,93.38V97.42M678.07,83.76V88.24" stroke="#e41a1c" stroke-width="1.3" fill="none"/>
<path d="M593.51,126.56H598.41M593.51,129.24H598.41M605.24,106.42H610.14M605.24,109.78H610.14M616.97,92.82H621.87M616.97,96.18H621.87M628.70,85.52H633.60M628.70,88.88H633.60M640.43,89.12H645.33M640.43,92.48H645.33M652.16,108.78H657.06M652.16,112.82H657.06M663.89,93.38H668.79M663.89,97.42H668.79M675.62,83.76H680.52M675.62,88.24H680.52" stroke="#e41a1c" stroke-width="1.1" fill="none"/>
<clipPath id="clip_b3"><rect x="408.55" y="139.55" width="91.78" height="102.30"/></clipPath>
<path clip-path="url(#clip_b3)" d="M408.60,190.70L499.50,190.70" fill="none" stroke="#d9e7f4" stroke-width="1.5" stroke-linejoin="round"/>
<ellipse cx="424.13" cy="190.80" rx="1.0" ry="1.3" fill="#c6daed"/>
<ellipse cx="435.86" cy="191.20" rx="1.0" ry="1.3" fill="#c6daed"/>
<ellipse cx="447.59" cy="193.00" rx="1.0" ry="1.3" fill="#c6daed"/>
<ellipse cx="459.32" cy="190.30" rx="1.0" ry="1.3" fill="#c6daed"/>
<ellipse cx="471.05" cy="187.60" rx="1.0" ry="1.3" fill="#c6daed"/>
<ellipse cx="482.78" cy="189.40" rx="1.0" ry="1.3" fill="#c6daed"/>
<ellipse cx="494.51" cy="191.20" rx="1.0" ry="1.3" fill="#c6daed"/>
<path d="M424.13,188.56V193.04M435.86,188.96V193.44M447.59,190.76V195.24M459.32,188.06V192.54M471.05,185.36V189.84M482.78,187.16V191.64M494.51,188.96V193.44" stroke="#c6daed" stroke-width="1.3" fill="none"/>
<path d="M421.68,188.56H426.58M421.68,193.04H426.58M433.41,188.96H438.31M433.41,193.44H438.31M445.14,190.76H450.04M445.14,195.24H450.04M456.87,188.06H461.77M456.87,192.54H461.77M468.60,185.36H473.50M468.60,189.84H473.50M480.33,187.16H485.23M480.33,191.64H485.23M492.06,188.96H496.96M492.06,193.44H496.96" stroke="#c6daed" stroke-width="1.1" fill="none"/>
<ellipse cx="412.40" cy="190.80" rx="1.0" ry="1.3" fill="#c2e2c1"/>
<path d="M412.40,188.78V192.82" stroke="#c2e2c1" stroke-width="1.3" fill="none"/>
<path d="M409.95,188.78H414.85M409.95,192.82H414.85" stroke="#c2e2c1" stroke-width="1.1" fill="none"/>
<path clip-path="url(#clip_b3)" d="M409.20,237.80C409.57,237.65 410.37,237.53 411.40,236.90C412.43,236.27 414.18,235.57 415.40,234.00C416.62,232.43 417.47,230.03 418.70,227.50C419.93,224.97 421.35,221.55 422.80,218.80C424.25,216.05 426.13,213.10 427.40,211.00C428.67,208.90 429.40,207.80 430.40,206.20C431.40,204.60 432.50,202.90 433.40,201.40C434.30,199.90 435.00,198.70 435.80,197.20C436.60,195.70 437.40,193.90 438.20,192.40C439.00,190.90 439.80,189.60 440.60,188.20C441.40,186.80 442.20,185.27 443.00,184.00C443.80,182.73 444.50,181.42 445.40,180.60C446.30,179.78 447.02,179.42 448.40,179.10C449.78,178.78 451.93,178.83 453.70,178.70C455.47,178.57 457.22,179.02 459.00,178.30C460.78,177.58 462.60,175.62 464.40,174.40C466.20,173.18 468.23,171.33 469.80,171.00C471.37,170.67 472.47,171.17 473.80,172.40C475.13,173.63 476.45,176.38 477.80,178.40C479.15,180.42 480.55,182.93 481.90,184.50C483.25,186.07 484.33,187.07 485.90,187.80C487.47,188.53 488.95,188.85 491.30,188.90C493.65,188.95 498.55,188.23 500.00,188.10" fill="none" stroke="#e9474a" stroke-width="1.7" stroke-linejoin="round"/>
<ellipse cx="412.40" cy="231.30" rx="1.0" ry="1.3" fill="#e41a1c"/>
<ellipse cx="424.13" cy="215.30" rx="1.0" ry="1.3" fill="#e41a1c"/>
<ellipse cx="435.86" cy="197.80" rx="1.0" ry="1.3" fill="#e41a1c"/>
<ellipse cx="447.59" cy="178.20" rx="1.0" ry="1.3" fill="#e41a1c"/>
<ellipse cx="459.32" cy="177.40" rx="1.0" ry="1.3" fill="#e41a1c"/>
<ellipse cx="471.05" cy="180.40" rx="1.0" ry="1.3" fill="#e41a1c"/>
<ellipse cx="482.78" cy="193.20" rx="1.0" ry="1.3" fill="#e41a1c"/>
<ellipse cx="494.51" cy="186.80" rx="1.0" ry="1.3" fill="#e41a1c"/>
<path d="M412.40,229.96V232.64M424.13,213.62V216.98M435.86,195.78V199.82M447.59,176.18V180.22M459.32,175.38V179.42M471.05,178.38V182.42M482.78,191.18V195.22M494.51,184.78V188.82" stroke="#e41a1c" stroke-width="1.3" fill="none"/>
<path d="M409.95,229.96H414.85M409.95,232.64H414.85M421.68,213.62H426.58M421.68,216.98H426.58M433.41,195.78H438.31M433.41,199.82H438.31M445.14,176.18H450.04M445.14,180.22H450.04M456.87,175.38H461.77M456.87,179.42H461.77M468.60,178.38H473.50M468.60,182.42H473.50M480.33,191.18H485.23M480.33,195.22H485.23M492.06,184.78H496.96M492.06,188.82H496.96" stroke="#e41a1c" stroke-width="1.1" fill="none"/>
<clipPath id="clip_b4"><rect x="500.33" y="139.55" width="91.78" height="102.30"/></clipPath>
<path clip-path="url(#clip_b4)" d="M501.20,187.60C501.45,187.68 501.90,187.12 502.70,188.10C503.50,189.08 504.88,191.03 506.00,193.50C507.12,195.97 508.27,200.12 509.40,202.90C510.53,205.68 511.68,208.48 512.80,210.20C513.92,211.92 514.88,213.53 516.10,213.20C517.32,212.87 518.87,210.03 520.10,208.20C521.33,206.37 522.37,203.53 523.50,202.20C524.63,200.87 525.78,200.20 526.90,200.20C528.02,200.20 528.98,200.87 530.20,202.20C531.42,203.53 532.85,206.52 534.20,208.20C535.55,209.88 536.95,211.97 538.30,212.30C539.65,212.63 540.97,211.43 542.30,210.20C543.63,208.97 544.95,206.62 546.30,204.90C547.65,203.18 548.93,201.25 550.40,199.90C551.87,198.55 553.65,197.38 555.10,196.80C556.55,196.22 557.77,196.28 559.10,196.40C560.43,196.52 561.53,196.87 563.10,197.50C564.67,198.13 566.93,199.55 568.50,200.20C570.07,200.85 571.15,201.52 572.50,201.40C573.85,201.28 575.25,200.60 576.60,199.50C577.95,198.40 579.38,196.25 580.60,194.80C581.82,193.35 582.67,191.73 583.90,190.80C585.13,189.87 586.65,189.43 588.00,189.20C589.35,188.97 591.33,189.37 592.00,189.40" fill="none" stroke="#5a95c8" stroke-width="1.7" stroke-linejoin="round"/>
<ellipse cx="504.18" cy="188.80" rx="1.0" ry="1.3" fill="#377eb8"/>
<ellipse cx="515.91" cy="208.60" rx="1.0" ry="1.3" fill="#377eb8"/>
<ellipse cx="527.64" cy="193.50" rx="1.0" ry="1.3" fill="#377eb8"/>
<ellipse cx="539.37" cy="211.70" rx="1.0" ry="1.3" fill="#377eb8"/>
<ellipse cx="551.10" cy="193.20" rx="1.0" ry="1.3" fill="#377eb8"/>
<ellipse cx="562.83" cy="192.40" rx="1.0" ry="1.3" fill="#377eb8"/>
<ellipse cx="574.56" cy="197.50" rx="1.0" ry="1.3" fill="#377eb8"/>
<ellipse cx="586.29" cy="188.40" rx="1.0" ry="1.3" fill="#377eb8"/>
<path d="M504.18,186.78V190.82M515.91,206.36V210.84M527.64,191.26V195.74M539.37,209.46V213.94M551.10,190.96V195.44M562.83,190.16V194.64M574.56,195.26V199.74M586.29,186.16V190.64" stroke="#377eb8" stroke-width="1.3" fill="none"/>
<path d="M501.73,186.78H506.63M501.73,190.82H506.63M513.46,206.36H518.36M513.46,210.84H518.36M525.19,191.26H530.09M525.19,195.74H530.09M536.92,209.46H541.82M536.92,213.94H541.82M548.65,190.96H553.55M548.65,195.44H553.55M560.38,190.16H565.28M560.38,194.64H565.28M572.11,195.26H577.01M572.11,199.74H577.01M583.84,186.16H588.74M583.84,190.64H588.74" stroke="#377eb8" stroke-width="1.1" fill="none"/>
<path clip-path="url(#clip_b4)" d="M501.20,143.60C501.45,143.67 501.78,143.60 502.70,144.00C503.62,144.40 505.37,144.88 506.70,146.00C508.03,147.12 509.35,148.90 510.70,150.70C512.05,152.50 513.45,154.78 514.80,156.80C516.15,158.82 517.47,161.03 518.80,162.80C520.13,164.57 521.45,166.28 522.80,167.40C524.15,168.52 525.55,169.18 526.90,169.50C528.25,169.82 529.57,169.63 530.90,169.30C532.23,168.97 533.57,168.25 534.90,167.50C536.23,166.75 537.55,165.80 538.90,164.80C540.25,163.80 541.65,162.60 543.00,161.50C544.35,160.40 545.67,158.92 547.00,158.20C548.33,157.48 549.65,157.15 551.00,157.20C552.35,157.25 553.75,157.57 555.10,158.50C556.45,159.43 557.77,161.18 559.10,162.80C560.43,164.42 561.77,166.40 563.10,168.20C564.43,170.00 565.98,172.08 567.10,173.60C568.22,175.12 568.90,176.00 569.80,177.30C570.70,178.60 571.37,179.83 572.50,181.40C573.63,182.97 575.25,185.13 576.60,186.70C577.95,188.27 579.27,189.78 580.60,190.80C581.93,191.82 583.27,192.35 584.60,192.80C585.93,193.25 587.37,193.38 588.60,193.50C589.83,193.62 591.43,193.50 592.00,193.50" fill="none" stroke="#e9474a" stroke-width="1.7" stroke-linejoin="round"/>
<ellipse cx="504.18" cy="148.60" rx="1.0" ry="1.3" fill="#e41a1c"/>
<ellipse cx="515.91" cy="156.10" rx="1.0" ry="1.3" fill="#e41a1c"/>
<ellipse cx="527.64" cy="167.80" rx="1.0" ry="1.3" fill="#e41a1c"/>
<ellipse cx="539.37" cy="164.90" rx="1.0" ry="1.3" fill="#e41a1c"/>
<ellipse cx="551.10" cy="161.80" rx="1.0" ry="1.3" fill="#e41a1c"/>
<ellipse cx="562.83" cy="163.80" rx="1.0" ry="1.3" fill="#e41a1c"/>
<ellipse cx="574.56" cy="182.00" rx="1.0" ry="1.3" fill="#e41a1c"/>
<ellipse cx="586.29" cy="192.90" rx="1.0" ry="1.3" fill="#e41a1c"/>
<path d="M504.18,147.26V149.94M515.91,154.42V157.78M527.64,166.12V169.48M539.37,163.22V166.58M551.10,160.12V163.48M562.83,161.78V165.82M574.56,179.98V184.02M586.29,190.88V194.92" stroke="#e41a1c" stroke-width="1.3" fill="none"/>
<path d="M501.73,147.26H506.63M501.73,149.94H506.63M513.46,154.42H518.36M513.46,157.78H518.36M525.19,166.12H530.09M525.19,169.48H530.09M536.92,163.22H541.82M536.92,166.58H541.82M548.65,160.12H553.55M548.65,163.48H553.55M560.38,161.78H565.28M560.38,165.82H565.28M572.11,179.98H577.01M572.11,184.02H577.01M583.84,190.88H588.74M583.84,194.92H588.74" stroke="#e41a1c" stroke-width="1.1" fill="none"/>
<clipPath id="clip_b5"><rect x="592.11" y="139.55" width="91.78" height="102.30"/></clipPath>
<path clip-path="url(#clip_b5)" d="M592.60,190.20C593.40,189.97 595.93,189.82 597.40,188.80C598.87,187.78 600.20,186.02 601.40,184.10C602.60,182.18 603.48,179.93 604.60,177.30C605.72,174.67 606.85,171.15 608.10,168.30C609.35,165.45 610.75,162.13 612.10,160.20C613.45,158.27 614.85,156.95 616.20,156.70C617.55,156.45 618.87,157.23 620.20,158.70C621.53,160.17 622.85,162.85 624.20,165.50C625.55,168.15 627.13,172.27 628.30,174.60C629.47,176.93 630.20,177.73 631.20,179.50C632.20,181.27 633.22,183.60 634.30,185.20C635.38,186.80 636.58,188.52 637.70,189.10C638.82,189.68 639.88,189.68 641.00,188.70C642.12,187.72 643.28,185.37 644.40,183.20C645.52,181.03 646.68,177.77 647.70,175.70C648.72,173.63 649.48,172.17 650.50,170.80C651.52,169.43 652.80,168.17 653.80,167.50C654.80,166.83 655.38,166.58 656.50,166.80C657.62,167.02 659.17,167.35 660.50,168.80C661.83,170.25 663.15,173.33 664.50,175.50C665.85,177.67 667.25,180.05 668.60,181.80C669.95,183.55 671.03,184.95 672.60,186.00C674.17,187.05 676.10,187.63 678.00,188.10C679.90,188.57 683.00,188.68 684.00,188.80" fill="none" stroke="#5a95c8" stroke-width="1.7" stroke-linejoin="round"/>
<ellipse cx="595.96" cy="189.50" rx="1.0" ry="1.3" fill="#377eb8"/>
<ellipse cx="607.69" cy="174.10" rx="1.0" ry="1.3" fill="#377eb8"/>
<ellipse cx="619.42" cy="162.40" rx="1.0" ry="1.3" fill="#377eb8"/>
<ellipse cx="631.15" cy="176.70" rx="1.0" ry="1.3" fill="#377eb8"/>
<ellipse cx="642.88" cy="191.50" rx="1.0" ry="1.3" fill="#377eb8"/>
<ellipse cx="654.61" cy="175.40" rx="1.0" ry="1.3" fill="#377eb8"/>
<ellipse cx="666.34" cy="179.40" rx="1.0" ry="1.3" fill="#377eb8"/>
<ellipse cx="678.07" cy="187.60" rx="1.0" ry="1.3" fill="#377eb8"/>
<path d="M595.96,187.48V191.52M607.69,171.86V176.34M619.42,160.16V164.64M631.15,174.46V178.94M642.88,189.26V193.74M654.61,173.16V177.64M666.34,177.16V181.64M678.07,185.36V189.84" stroke="#377eb8" stroke-width="1.3" fill="none"/>
<path d="M593.51,187.48H598.41M593.51,191.52H598.41M605.24,171.86H610.14M605.24,176.34H610.14M616.97,160.16H621.87M616.97,164.64H621.87M628.70,174.46H633.60M628.70,178.94H633.60M640.43,189.26H645.33M640.43,193.74H645.33M652.16,173.16H657.06M652.16,177.64H657.06M663.89,177.16H668.79M663.89,181.64H668.79M675.62,185.36H680.52M675.62,189.84H680.52" stroke="#377eb8" stroke-width="1.1" fill="none"/>
<path clip-path="url(#clip_b5)" d="M593.00,237.80C593.28,237.70 593.52,237.80 594.70,237.20C595.88,236.60 598.32,235.48 600.10,234.20C601.88,232.92 604.07,230.50 605.40,229.50C606.73,228.50 606.75,228.35 608.10,228.20C609.45,228.05 611.70,228.38 613.50,228.60C615.30,228.82 617.12,229.80 618.90,229.50C620.68,229.20 622.63,227.92 624.20,226.80C625.77,225.68 626.95,224.25 628.30,222.80C629.65,221.35 630.73,219.67 632.30,218.10C633.87,216.53 636.02,214.52 637.70,213.40C639.38,212.28 640.83,211.52 642.40,211.40C643.97,211.28 645.43,212.20 647.10,212.70C648.77,213.20 650.83,214.28 652.40,214.40C653.97,214.52 655.15,214.12 656.50,213.40C657.85,212.68 659.17,211.50 660.50,210.10C661.83,208.70 663.32,206.58 664.50,205.00C665.68,203.42 666.48,202.05 667.60,200.60C668.72,199.15 670.00,197.60 671.20,196.30C672.40,195.00 673.60,193.85 674.80,192.80C676.00,191.75 677.28,190.70 678.40,190.00C679.52,189.30 680.57,188.90 681.50,188.60C682.43,188.30 683.58,188.27 684.00,188.20" fill="none" stroke="#e9474a" stroke-width="1.7" stroke-linejoin="round"/>
<ellipse cx="595.96" cy="233.90" rx="1.0" ry="1.3" fill="#e41a1c"/>
<ellipse cx="607.69" cy="227.90" rx="1.0" ry="1.3" fill="#e41a1c"/>
<ellipse cx="619.42" cy="226.70" rx="1.0" ry="1.3" fill="#e41a1c"/>
<ellipse cx="631.15" cy="220.00" rx="1.0" ry="1.3" fill="#e41a1c"/>
<ellipse cx="642.88" cy="210.80" rx="1.0" ry="1.3" fill="#e41a1c"/>
<ellipse cx="654.61" cy="216.90" rx="1.0" ry="1.3" fill="#e41a1c"/>
<ellipse cx="666.34" cy="203.30" rx="1.0" ry="1.3" fill="#e41a1c"/>
<ellipse cx="678.07" cy="192.80" rx="1.0" ry="1.3" fill="#e41a1c"/>
<path d="M595.96,232.56V235.24M607.69,226.22V229.58M619.42,223.90V229.50M631.15,217.98V222.02M642.88,208.78V212.82M654.61,214.88V218.92M666.34,201.28V205.32M678.07,190.78V194.82" stroke="#e41a1c" stroke-width="1.3" fill="none"/>
<path d="M593.51,232.56H598.41M593.51,235.24H598.41M605.24,226.22H610.14M605.24,229.58H610.14M616.97,223.90H621.87M616.97,229.50H621.87M628.70,217.98H633.60M628.70,222.02H633.60M640.43,208.78H645.33M640.43,212.82H645.33M652.16,214.88H657.06M652.16,218.92H657.06M663.89,201.28H668.79M663.89,205.32H668.79M675.62,190.78H680.52M675.62,194.82H680.52" stroke="#e41a1c" stroke-width="1.1" fill="none"/>
<rect x="50.55" y="37.55" width="91.78" height="102.00" fill="none" stroke="#000" stroke-width="1.4"/>
<line x1="46.45" y1="42.19" x2="50.55" y2="42.19" stroke="#000" stroke-width="1.9"/>
<line x1="46.45" y1="88.55" x2="50.55" y2="88.55" stroke="#000" stroke-width="1.9"/>
<rect x="142.33" y="37.55" width="91.78" height="102.00" fill="none" stroke="#000" stroke-width="1.4"/>
<line x1="138.23" y1="42.19" x2="142.33" y2="42.19" stroke="#000" stroke-width="1.9"/>
<line x1="138.23" y1="88.55" x2="142.33" y2="88.55" stroke="#000" stroke-width="1.9"/>
<line x1="138.23" y1="134.91" x2="142.33" y2="134.91" stroke="#000" stroke-width="1.9"/>
<rect x="234.11" y="37.55" width="91.78" height="102.00" fill="none" stroke="#000" stroke-width="1.4"/>
<line x1="230.01" y1="42.19" x2="234.11" y2="42.19" stroke="#000" stroke-width="1.9"/>
<line x1="230.01" y1="88.55" x2="234.11" y2="88.55" stroke="#000" stroke-width="1.9"/>
<line x1="230.01" y1="134.91" x2="234.11" y2="134.91" stroke="#000" stroke-width="1.9"/>
<text x="41.25" y="47.09" text-anchor="end" fill="#363636" style="font-family:'Liberation Serif',serif;font-size:13.5px">1</text>
<text x="41.25" y="93.45" text-anchor="end" fill="#363636" style="font-family:'Liberation Serif',serif;font-size:13.5px">0</text>
<text x="41.25" y="149.10" text-anchor="end" fill="#363636" style="font-family:'Liberation Serif',serif;font-size:13.5px">1</text>
<text x="41.25" y="195.60" text-anchor="end" fill="#363636" style="font-family:'Liberation Serif',serif;font-size:13.5px">0</text>
<text x="41.25" y="242.10" text-anchor="end" fill="#363636" style="font-family:'Liberation Serif',serif;font-size:13.5px">1</text>
<path d="M25.75,238.70H33.95" stroke="#222" stroke-width="0.85"/>
<rect x="50.55" y="139.55" width="91.78" height="102.30" fill="none" stroke="#000" stroke-width="1.4"/>
<line x1="46.45" y1="144.20" x2="50.55" y2="144.20" stroke="#000" stroke-width="1.9"/>
<line x1="46.45" y1="190.70" x2="50.55" y2="190.70" stroke="#000" stroke-width="1.9"/>
<line x1="46.45" y1="237.20" x2="50.55" y2="237.20" stroke="#000" stroke-width="1.9"/>
<line x1="53.85" y1="241.85" x2="53.85" y2="245.75" stroke="#000" stroke-width="1.9"/>
<text x="53.85" y="260.1" text-anchor="middle" fill="#363636" style="font-family:'Liberation Serif',serif;font-size:13.5px">0</text>
<line x1="88.50" y1="241.85" x2="88.50" y2="245.75" stroke="#000" stroke-width="1.9"/>
<text x="88.50" y="260.1" text-anchor="middle" fill="#363636" style="font-family:'Liberation Serif',serif;font-size:13.5px">1</text>
<line x1="123.15" y1="241.85" x2="123.15" y2="245.75" stroke="#000" stroke-width="1.9"/>
<text x="123.15" y="260.1" text-anchor="middle" fill="#363636" style="font-family:'Liberation Serif',serif;font-size:13.5px">2</text>
<rect x="142.33" y="139.55" width="91.78" height="102.30" fill="none" stroke="#000" stroke-width="1.4"/>
<line x1="138.23" y1="144.20" x2="142.33" y2="144.20" stroke="#000" stroke-width="1.9"/>
<line x1="138.23" y1="190.70" x2="142.33" y2="190.70" stroke="#000" stroke-width="1.9"/>
<line x1="138.23" y1="237.20" x2="142.33" y2="237.20" stroke="#000" stroke-width="1.9"/>
<line x1="145.63" y1="241.85" x2="145.63" y2="245.75" stroke="#000" stroke-width="1.9"/>
<text x="145.63" y="260.1" text-anchor="middle" fill="#363636" style="font-family:'Liberation Serif',serif;font-size:13.5px">0</text>
<line x1="180.28" y1="241.85" x2="180.28" y2="245.75" stroke="#000" stroke-width="1.9"/>
<text x="180.28" y="260.1" text-anchor="middle" fill="#363636" style="font-family:'Liberation Serif',serif;font-size:13.5px">1</text>
<line x1="214.93" y1="241.85" x2="214.93" y2="245.75" stroke="#000" stroke-width="1.9"/>
<text x="214.93" y="260.1" text-anchor="middle" fill="#363636" style="font-family:'Liberation Serif',serif;font-size:13.5px">2</text>
<rect x="234.11" y="139.55" width="91.78" height="102.30" fill="none" stroke="#000" stroke-width="1.4"/>
<line x1="230.01" y1="144.20" x2="234.11" y2="144.20" stroke="#000" stroke-width="1.9"/>
<line x1="230.01" y1="190.70" x2="234.11" y2="190.70" stroke="#000" stroke-width="1.9"/>
<line x1="230.01" y1="237.20" x2="234.11" y2="237.20" stroke="#000" stroke-width="1.9"/>
<line x1="237.41" y1="241.85" x2="237.41" y2="245.75" stroke="#000" stroke-width="1.9"/>
<text x="237.41" y="260.1" text-anchor="middle" fill="#363636" style="font-family:'Liberation Serif',serif;font-size:13.5px">0</text>
<line x1="272.06" y1="241.85" x2="272.06" y2="245.75" stroke="#000" stroke-width="1.9"/>
<text x="272.06" y="260.1" text-anchor="middle" fill="#363636" style="font-family:'Liberation Serif',serif;font-size:13.5px">1</text>
<line x1="306.71" y1="241.85" x2="306.71" y2="245.75" stroke="#000" stroke-width="1.9"/>
<text x="306.71" y="260.1" text-anchor="middle" fill="#363636" style="font-family:'Liberation Serif',serif;font-size:13.5px">2</text>
<text x="41.25" y="47.09" text-anchor="end" fill="#363636" style="font-family:'Liberation Serif',serif;font-size:13.5px">1</text>
<text x="41.25" y="93.45" text-anchor="end" fill="#363636" style="font-family:'Liberation Serif',serif;font-size:13.5px">0</text>
<text x="41.25" y="149.10" text-anchor="end" fill="#363636" style="font-family:'Liberation Serif',serif;font-size:13.5px">1</text>
<text x="41.25" y="195.60" text-anchor="end" fill="#363636" style="font-family:'Liberation Serif',serif;font-size:13.5px">0</text>
<text x="41.25" y="242.10" text-anchor="end" fill="#363636" style="font-family:'Liberation Serif',serif;font-size:13.5px">1</text>
<path d="M25.75,238.70H33.95" stroke="#222" stroke-width="0.85"/>
<rect x="408.55" y="37.55" width="91.78" height="102.00" fill="none" stroke="#000" stroke-width="1.4"/>
<line x1="404.45" y1="42.19" x2="408.55" y2="42.19" stroke="#000" stroke-width="1.9"/>
<line x1="404.45" y1="88.55" x2="408.55" y2="88.55" stroke="#000" stroke-width="1.9"/>
<rect x="500.33" y="37.55" width="91.78" height="102.00" fill="none" stroke="#000" stroke-width="1.4"/>
<line x1="496.23" y1="42.19" x2="500.33" y2="42.19" stroke="#000" stroke-width="1.9"/>
<line x1="496.23" y1="88.55" x2="500.33" y2="88.55" stroke="#000" stroke-width="1.9"/>
<line x1="496.23" y1="134.91" x2="500.33" y2="134.91" stroke="#000" stroke-width="1.9"/>
<rect x="592.11" y="37.55" width="91.78" height="102.00" fill="none" stroke="#000" stroke-width="1.4"/>
<line x1="588.01" y1="42.19" x2="592.11" y2="42.19" stroke="#000" stroke-width="1.9"/>
<line x1="588.01" y1="88.55" x2="592.11" y2="88.55" stroke="#000" stroke-width="1.9"/>
<line x1="588.01" y1="134.91" x2="592.11" y2="134.91" stroke="#000" stroke-width="1.9"/>
<text x="399.25" y="47.09" text-anchor="end" fill="#363636" style="font-family:'Liberation Serif',serif;font-size:13.5px">1</text>
<text x="399.25" y="93.45" text-anchor="end" fill="#363636" style="font-family:'Liberation Serif',serif;font-size:13.5px">0</text>
<text x="399.25" y="149.10" text-anchor="end" fill="#363636" style="font-family:'Liberation Serif',serif;font-size:13.5px">1</text>
<text x="399.25" y="195.60" text-anchor="end" fill="#363636" style="font-family:'Liberation Serif',serif;font-size:13.5px">0</text>
<text x="399.25" y="242.10" text-anchor="end" fill="#363636" style="font-family:'Liberation Serif',serif;font-size:13.5px">1</text>
<path d="M383.75,238.70H391.95" stroke="#222" stroke-width="0.85"/>
<rect x="408.55" y="139.55" width="91.78" height="102.30" fill="none" stroke="#000" stroke-width="1.4"/>
<line x1="404.45" y1="144.20" x2="408.55" y2="144.20" stroke="#000" stroke-width="1.9"/>
<line x1="404.45" y1="190.70" x2="408.55" y2="190.70" stroke="#000" stroke-width="1.9"/>
<line x1="404.45" y1="237.20" x2="408.55" y2="237.20" stroke="#000" stroke-width="1.9"/>
<line x1="412.00" y1="241.85" x2="412.00" y2="245.75" stroke="#000" stroke-width="1.9"/>
<text x="412.00" y="260.1" text-anchor="middle" fill="#363636" style="font-family:'Liberation Serif',serif;font-size:13.5px">0</text>
<line x1="446.65" y1="241.85" x2="446.65" y2="245.75" stroke="#000" stroke-width="1.9"/>
<text x="446.65" y="260.1" text-anchor="middle" fill="#363636" style="font-family:'Liberation Serif',serif;font-size:13.5px">1</text>
<line x1="481.30" y1="241.85" x2="481.30" y2="245.75" stroke="#000" stroke-width="1.9"/>
<text x="481.30" y="260.1" text-anchor="middle" fill="#363636" style="font-family:'Liberation Serif',serif;font-size:13.5px">2</text>
<rect x="500.33" y="139.55" width="91.78" height="102.30" fill="none" stroke="#000" stroke-width="1.4"/>
<line x1="496.23" y1="144.20" x2="500.33" y2="144.20" stroke="#000" stroke-width="1.9"/>
<line x1="496.23" y1="190.70" x2="500.33" y2="190.70" stroke="#000" stroke-width="1.9"/>
<line x1="496.23" y1="237.20" x2="500.33" y2="237.20" stroke="#000" stroke-width="1.9"/>
<line x1="503.78" y1="241.85" x2="503.78" y2="245.75" stroke="#000" stroke-width="1.9"/>
<text x="503.78" y="260.1" text-anchor="middle" fill="#363636" style="font-family:'Liberation Serif',serif;font-size:13.5px">0</text>
<line x1="538.43" y1="241.85" x2="538.43" y2="245.75" stroke="#000" stroke-width="1.9"/>
<text x="538.43" y="260.1" text-anchor="middle" fill="#363636" style="font-family:'Liberation Serif',serif;font-size:13.5px">1</text>
<line x1="573.08" y1="241.85" x2="573.08" y2="245.75" stroke="#000" stroke-width="1.9"/>
<text x="573.08" y="260.1" text-anchor="middle" fill="#363636" style="font-family:'Liberation Serif',serif;font-size:13.5px">2</text>
<rect x="592.11" y="139.55" width="91.78" height="102.30" fill="none" stroke="#000" stroke-width="1.4"/>
<line x1="588.01" y1="144.20" x2="592.11" y2="144.20" stroke="#000" stroke-width="1.9"/>
<line x1="588.01" y1="190.70" x2="592.11" y2="190.70" stroke="#000" stroke-width="1.9"/>
<line x1="588.01" y1="237.20" x2="592.11" y2="237.20" stroke="#000" stroke-width="1.9"/>
<line x1="595.56" y1="241.85" x2="595.56" y2="245.75" stroke="#000" stroke-width="1.9"/>
<text x="595.56" y="260.1" text-anchor="middle" fill="#363636" style="font-family:'Liberation Serif',serif;font-size:13.5px">0</text>
<line x1="630.21" y1="241.85" x2="630.21" y2="245.75" stroke="#000" stroke-width="1.9"/>
<text x="630.21" y="260.1" text-anchor="middle" fill="#363636" style="font-family:'Liberation Serif',serif;font-size:13.5px">1</text>
<line x1="664.86" y1="241.85" x2="664.86" y2="245.75" stroke="#000" stroke-width="1.9"/>
<text x="664.86" y="260.1" text-anchor="middle" fill="#363636" style="font-family:'Liberation Serif',serif;font-size:13.5px">2</text>
<text x="399.25" y="47.09" text-anchor="end" fill="#363636" style="font-family:'Liberation Serif',serif;font-size:13.5px">1</text>
<text x="399.25" y="93.45" text-anchor="end" fill="#363636" style="font-family:'Liberation Serif',serif;font-size:13.5px">0</text>
<text x="399.25" y="149.10" text-anchor="end" fill="#363636" style="font-family:'Liberation Serif',serif;font-size:13.5px">1</text>
<text x="399.25" y="195.60" text-anchor="end" fill="#363636" style="font-family:'Liberation Serif',serif;font-size:13.5px">0</text>
<text x="399.25" y="242.10" text-anchor="end" fill="#363636" style="font-family:'Liberation Serif',serif;font-size:13.5px">1</text>
<path d="M383.75,238.70H391.95" stroke="#222" stroke-width="0.85"/>
<text x="92.35" y="52.95" fill="#363636" style="font-family:'Liberation Serif',serif;font-size:12px;font-style:italic">i</text>
<path d="M100.15,48.50H107.45M100.15,51.10H107.45" stroke="#3a3a3a" stroke-width="0.9"/>
<text x="111.55" y="52.95" fill="#363636" style="font-family:'Liberation Serif',serif;font-size:12.6px">0</text>
<text x="184.13" y="52.95" fill="#363636" style="font-family:'Liberation Serif',serif;font-size:12px;font-style:italic">i</text>
<path d="M191.93,48.50H199.23M191.93,51.10H199.23" stroke="#3a3a3a" stroke-width="0.9"/>
<text x="203.33" y="52.95" fill="#363636" style="font-family:'Liberation Serif',serif;font-size:12.6px">1</text>
<text x="275.91" y="52.95" fill="#363636" style="font-family:'Liberation Serif',serif;font-size:12px;font-style:italic">i</text>
<path d="M283.71,48.50H291.01M283.71,51.10H291.01" stroke="#3a3a3a" stroke-width="0.9"/>
<text x="295.11" y="52.95" fill="#363636" style="font-family:'Liberation Serif',serif;font-size:12.6px">2</text>
<text x="92.35" y="154.95" fill="#363636" style="font-family:'Liberation Serif',serif;font-size:12px;font-style:italic">i</text>
<path d="M100.15,150.50H107.45M100.15,153.10H107.45" stroke="#3a3a3a" stroke-width="0.9"/>
<text x="111.55" y="154.95" fill="#363636" style="font-family:'Liberation Serif',serif;font-size:12.6px">3</text>
<text x="184.13" y="154.95" fill="#363636" style="font-family:'Liberation Serif',serif;font-size:12px;font-style:italic">i</text>
<path d="M191.93,150.50H199.23M191.93,153.10H199.23" stroke="#3a3a3a" stroke-width="0.9"/>
<text x="203.33" y="154.95" fill="#363636" style="font-family:'Liberation Serif',serif;font-size:12.6px">4</text>
<text x="275.91" y="154.95" fill="#363636" style="font-family:'Liberation Serif',serif;font-size:12px;font-style:italic">i</text>
<path d="M283.71,150.50H291.01M283.71,153.10H291.01" stroke="#3a3a3a" stroke-width="0.9"/>
<text x="295.11" y="154.95" fill="#363636" style="font-family:'Liberation Serif',serif;font-size:12.6px">5</text>
<text x="450.35" y="52.95" fill="#363636" style="font-family:'Liberation Serif',serif;font-size:12px;font-style:italic">i</text>
<path d="M458.15,48.50H465.45M458.15,51.10H465.45" stroke="#3a3a3a" stroke-width="0.9"/>
<text x="469.55" y="52.95" fill="#363636" style="font-family:'Liberation Serif',serif;font-size:12.6px">0</text>
<text x="542.13" y="52.95" fill="#363636" style="font-family:'Liberation Serif',serif;font-size:12px;font-style:italic">i</text>
<path d="M549.93,48.50H557.23M549.93,51.10H557.23" stroke="#3a3a3a" stroke-width="0.9"/>
<text x="561.33" y="52.95" fill="#363636" style="font-family:'Liberation Serif',serif;font-size:12.6px">1</text>
<text x="633.91" y="52.95" fill="#363636" style="font-family:'Liberation Serif',serif;font-size:12px;font-style:italic">i</text>
<path d="M641.71,48.50H649.01M641.71,51.10H649.01" stroke="#3a3a3a" stroke-width="0.9"/>
<text x="653.11" y="52.95" fill="#363636" style="font-family:'Liberation Serif',serif;font-size:12.6px">2</text>
<text x="450.35" y="154.95" fill="#363636" style="font-family:'Liberation Serif',serif;font-size:12px;font-style:italic">i</text>
<path d="M458.15,150.50H465.45M458.15,153.10H465.45" stroke="#3a3a3a" stroke-width="0.9"/>
<text x="469.55" y="154.95" fill="#363636" style="font-family:'Liberation Serif',serif;font-size:12.6px">3</text>
<text x="542.13" y="154.95" fill="#363636" style="font-family:'Liberation Serif',serif;font-size:12px;font-style:italic">i</text>
<path d="M549.93,150.50H557.23M549.93,153.10H557.23" stroke="#3a3a3a" stroke-width="0.9"/>
<text x="561.33" y="154.95" fill="#363636" style="font-family:'Liberation Serif',serif;font-size:12.6px">4</text>
<text x="633.91" y="154.95" fill="#363636" style="font-family:'Liberation Serif',serif;font-size:12px;font-style:italic">i</text>
<path d="M641.71,150.50H649.01M641.71,153.10H649.01" stroke="#3a3a3a" stroke-width="0.9"/>
<text x="653.11" y="154.95" fill="#363636" style="font-family:'Liberation Serif',serif;font-size:12.6px">5</text>
<rect x="114.9" y="5.6" width="146.7" height="26.6" rx="2.2" fill="#fff" stroke="#666" stroke-width="1"/>
<path d="M128.00,10.2V24.9M125.20,10.2H130.80M125.20,24.9H130.80" stroke="#e41a1c" stroke-width="1.4" fill="none"/><circle cx="128.00" cy="17.5" r="1.1" fill="#e41a1c"/>
<path d="M210.00,10.2V24.9M207.20,10.2H212.80M207.20,24.9H212.80" stroke="#377eb8" stroke-width="1.4" fill="none"/><circle cx="210.00" cy="17.5" r="1.1" fill="#377eb8"/>
<path d="M152.40,11.60L148.90,19.20L152.40,26.80" fill="none" stroke="#222" stroke-width="0.75"/>
<text x="153.20" y="22.60" fill="#363636" style="font-family:'Liberation Serif',serif;font-size:14.5px;font-style:italic">σ</text>
<text x="161.70" y="17.00" fill="#363636" style="font-family:'Liberation Serif',serif;font-size:7.8px;font-style:italic;">z</text>
<text x="161.80" y="26.10" fill="#363636" style="font-family:'Liberation Serif',serif;font-size:7.8px;font-style:italic;">i</text>
<path d="M168.50,11.60L172.00,19.20L168.50,26.80" fill="none" stroke="#222" stroke-width="0.75"/>
<path d="M234.40,11.60L230.90,19.20L234.40,26.80" fill="none" stroke="#222" stroke-width="0.75"/>
<text x="235.20" y="22.60" fill="#363636" style="font-family:'Liberation Serif',serif;font-size:14.5px;font-style:italic">σ</text>
<text x="243.70" y="17.00" fill="#363636" style="font-family:'Liberation Serif',serif;font-size:7.8px;font-style:italic;">x</text>
<text x="243.80" y="26.10" fill="#363636" style="font-family:'Liberation Serif',serif;font-size:7.8px;font-style:italic;">i</text>
<path d="M250.90,11.60L254.40,19.20L250.90,26.80" fill="none" stroke="#222" stroke-width="0.75"/>
<rect x="447.6" y="5.6" width="196.9" height="26.6" rx="2.2" fill="#fff" stroke="#666" stroke-width="1"/>
<path d="M460.70,10.2V24.9M457.90,10.2H463.50M457.90,24.9H463.50" stroke="#e41a1c" stroke-width="1.4" fill="none"/><circle cx="460.70" cy="17.5" r="1.1" fill="#e41a1c"/>
<path d="M567.50,10.2V24.9M564.70,10.2H570.30M564.70,24.9H570.30" stroke="#377eb8" stroke-width="1.4" fill="none"/><circle cx="567.50" cy="17.5" r="1.1" fill="#377eb8"/>
<path d="M484.20,11.60L480.70,19.20L484.20,26.80" fill="none" stroke="#222" stroke-width="0.75"/>
<text x="486.00" y="22.60" fill="#363636" style="font-family:'Liberation Serif',serif;font-size:14.5px;font-style:italic">σ</text>
<text x="494.60" y="17.00" fill="#363636" style="font-family:'Liberation Serif',serif;font-size:7.8px;font-style:italic;">z</text>
<text x="494.40" y="26.10" fill="#363636" style="font-family:'Liberation Serif',serif;font-size:7.8px;font-style:italic;">i</text>
<text x="499.90" y="22.60" fill="#363636" style="font-family:'Liberation Serif',serif;font-size:14.5px;font-style:italic">σ</text>
<text x="508.90" y="17.00" fill="#363636" style="font-family:'Liberation Serif',serif;font-size:7.8px;font-style:italic;">z</text>
<text x="508.10" y="26.10" fill="#363636" style="font-family:'Liberation Serif',serif;font-size:7.8px;font-style:italic;">i</text>
<text x="511.50" y="26.80" fill="#363636" style="font-family:'Liberation Serif',serif;font-size:11.8px;">+</text>
<text x="519.30" y="26.40" fill="#363636" style="font-family:'Liberation Serif',serif;font-size:9.6px;">1</text>
<path d="M525.70,11.60L529.20,19.20L525.70,26.80" fill="none" stroke="#222" stroke-width="0.75"/>
<path d="M591.20,11.60L587.70,19.20L591.20,26.80" fill="none" stroke="#222" stroke-width="0.75"/>
<text x="593.00" y="22.60" fill="#363636" style="font-family:'Liberation Serif',serif;font-size:14.5px;font-style:italic">σ</text>
<text x="601.60" y="17.00" fill="#363636" style="font-family:'Liberation Serif',serif;font-size:7.8px;font-style:italic;">x</text>
<text x="601.40" y="26.10" fill="#363636" style="font-family:'Liberation Serif',serif;font-size:7.8px;font-style:italic;">i</text>
<text x="607.80" y="22.60" fill="#363636" style="font-family:'Liberation Serif',serif;font-size:14.5px;font-style:italic">σ</text>
<text x="616.80" y="17.00" fill="#363636" style="font-family:'Liberation Serif',serif;font-size:7.8px;font-style:italic;">x</text>
<text x="616.00" y="26.10" fill="#363636" style="font-family:'Liberation Serif',serif;font-size:7.8px;font-style:italic;">i</text>
<text x="619.40" y="26.80" fill="#363636" style="font-family:'Liberation Serif',serif;font-size:11.8px;">+</text>
<text x="627.20" y="26.40" fill="#363636" style="font-family:'Liberation Serif',serif;font-size:9.6px;">1</text>
<path d="M633.60,11.60L637.10,19.20L633.60,26.80" fill="none" stroke="#222" stroke-width="0.75"/>
<text x="-0.6" y="19.4" fill="#363636" style="font-family:'Liberation Serif',serif;font-size:15px;font-weight:bold">(a)</text>
<text x="362.1" y="19.6" fill="#363636" style="font-family:'Liberation Serif',serif;font-size:15px;font-weight:bold">(b)</text>
<text x="161.30" y="274.5" fill="#363636" style="font-family:'Liberation Serif',serif;font-size:14.2px">Time</text>
<text x="194.60" y="274.5" fill="#363636" style="font-family:'Liberation Serif',serif;font-size:14.2px;font-style:italic">gt</text>
<text x="519.90" y="274.5" fill="#363636" style="font-family:'Liberation Serif',serif;font-size:14.2px">Time</text>
<text x="553.20" y="274.5" fill="#363636" style="font-family:'Liberation Serif',serif;font-size:14.2px;font-style:italic">gt</text>
<g transform="translate(24.0,220.5) rotate(-90)"><text id="yl_a" x="0" y="0" textLength="136.2" lengthAdjust="spacingAndGlyphs" fill="#363636" style="font-family:'Liberation Serif',serif;font-size:13.6px">Single-Qubit Observable</text><path d="M145.50,-10.60L142.00,-3.75L145.50,3.10" fill="none" stroke="#222" stroke-width="0.75"/><text x="145.6" y="0" fill="#363636" style="font-family:'Liberation Serif',serif;font-size:13.6px;font-style:italic">O</text><text x="155.2" y="1.9" fill="#363636" style="font-family:'Liberation Serif',serif;font-size:9.5px;font-style:italic">i</text><path d="M159.80,-10.60L163.30,-3.75L159.80,3.10" fill="none" stroke="#222" stroke-width="0.75"/></g>
<g transform="translate(382.0,228.8) rotate(-90)"><text id="yl_b" x="0" y="0" textLength="128.3" lengthAdjust="spacingAndGlyphs" fill="#363636" style="font-family:'Liberation Serif',serif;font-size:13.6px">Two-Qubit Observable</text><path d="M137.20,-10.60L133.70,-3.75L137.20,3.10" fill="none" stroke="#222" stroke-width="0.75"/><text x="137.4" y="0" fill="#363636" style="font-family:'Liberation Serif',serif;font-size:13.6px;font-style:italic">O</text><text x="147.0" y="1.9" fill="#363636" style="font-family:'Liberation Serif',serif;font-size:9.5px;font-style:italic">i</text><text x="150.2" y="0" fill="#363636" style="font-family:'Liberation Serif',serif;font-size:13.6px;font-style:italic">O</text><text x="160.3" y="1.9" fill="#363636" style="font-family:'Liberation Serif',serif;font-size:9.5px;font-style:italic">i</text><text x="163.9" y="3.6" fill="#363636" style="font-family:'Liberation Serif',serif;font-size:12px">+</text><text x="170.4" y="1.9" fill="#363636" style="font-family:'Liberation Serif',serif;font-size:9.5px">1</text><path d="M176.20,-10.60L179.70,-3.75L176.20,3.10" fill="none" stroke="#222" stroke-width="0.75"/></g>
</svg></body></html>
